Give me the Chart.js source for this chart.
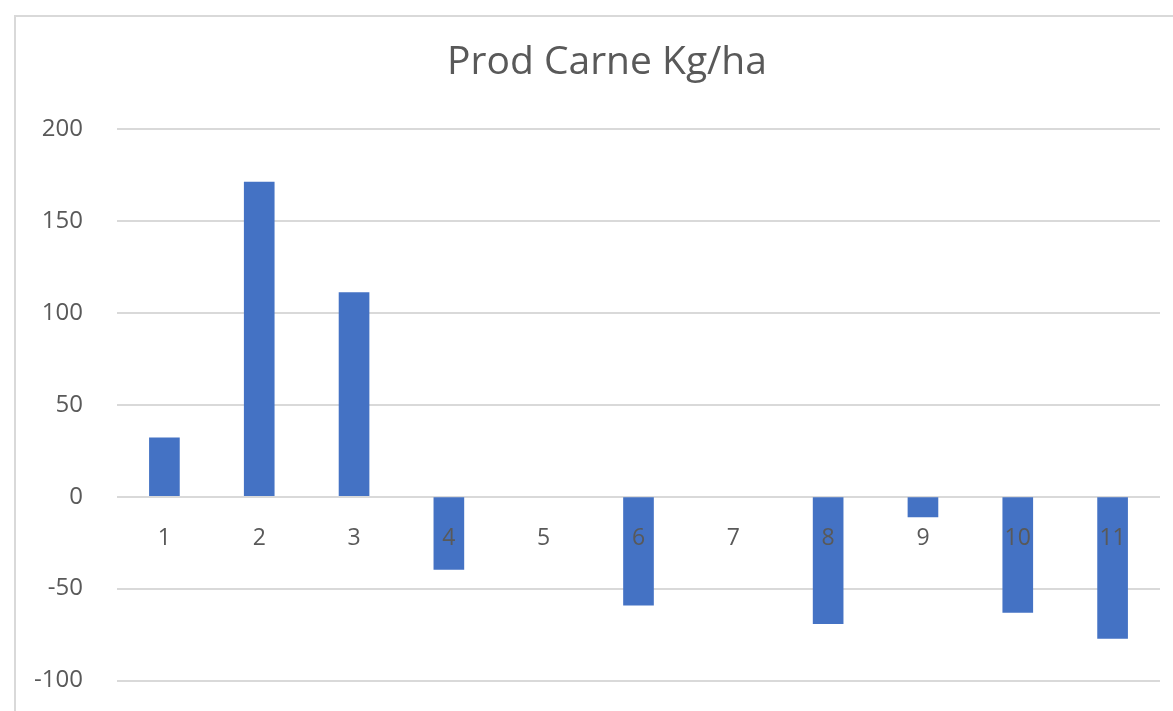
<!DOCTYPE html>
<html>
<head>
<meta charset="utf-8">
<script src="https://cdn.jsdelivr.net/npm/chart.js@4"></script>
<style>
    html, body { margin: 0; padding: 0; background: #fff; overflow: hidden; }
    .frame { position: absolute; left: 14px; top: 15px; width: 1300px; height: 800px; border: 2px solid #d9d9d9; }
    /* the reference is cropped at the bottom, so the canvas runs past the window */
    #wrap { position: absolute; left: 0; top: 0; width: 1173px; height: 729px; }
</style>
</head>
<body>
<div class="frame"></div>
<div id="wrap"><canvas id="prodChart"></canvas></div>
<script>
    const categories = ['1', '2', '3', '4', '5', '6', '7', '8', '9', '10', '11'];
    // 5 and 7 have no bar in the picture
    const prodValues = [32, 171, 111, -39.5, null, -59, null, -69, -11, -63, -77];
    const yTicks = [-100, -50, 0, 50, 100, 150, 200];

    const textColor = '#595959';
    const fontFamily = '"Open Sans", "Noto Sans", sans-serif';

    // the title sits centred on the whole frame, a bit right of the plot centre
    const shiftTitle = {
        id: 'shiftTitle',
        afterLayout(chart) {
            if (chart.titleBlock) chart.titleBlock.left += 54;
        }
    };

    const ctx = document.getElementById('prodChart').getContext('2d');
    const prodChart = new Chart(ctx, {
        type: 'bar',
        data: {
            labels: categories,
            datasets: [{ label: 'Prod Carne Kg/ha', data: prodValues, backgroundColor: '#4472c4', barThickness: 30 }]
        },
        options: {
            responsive: true,
            maintainAspectRatio: false,
            animation: false,
            layout: { padding: { left: 0, right: 13, top: 0, bottom: 0 } },
            plugins: {
                legend: { display: false },
                tooltip: { enabled: false },
                title: {
                    display: true,
                    text: 'Prod Carne Kg/ha',
                    color: textColor,
                    font: { family: fontFamily, size: 39, weight: 'normal' },
                    padding: { top: 39, bottom: 43 }
                }
            },
            scales: {
                x: {
                    position: { y: 0 },
                    grid: { display: false },
                    border: { display: false },
                    ticks: { z: 1, color: textColor, padding: 20, autoSkip: false, maxRotation: 0, font: { family: fontFamily, size: 23 } }
                },
                y: {
                    min: yTicks[0],
                    max: yTicks[yTicks.length - 1],
                    afterBuildTicks: scale => { scale.ticks = yTicks.map(v => ({ value: v })); },
                    afterFit: scale => { scale.width = 117; },
                    grid: { color: '#d9d9d9', lineWidth: 2, drawTicks: false },
                    border: { display: false },
                    ticks: { color: textColor, padding: 34, font: { family: fontFamily, size: 24 } }
                }
            }
        },
        plugins: [shiftTitle]
    });
</script>
</body>
</html>
